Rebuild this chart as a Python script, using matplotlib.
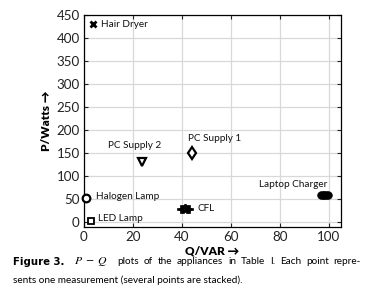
import matplotlib
matplotlib.use("Agg")
import matplotlib.pyplot as plt

plt.rcParams['font.family'] = ['Lato', 'DejaVu Sans']
plt.rcParams['mathtext.fontset'] = 'stix'

# ---- data ----
appliances = ["Hair Dryer", "PC Supply 2", "PC Supply 1", "Halogen Lamp",
              "LED Lamp", "CFL", "Laptop Charger"]
q_values = [[3.5], [23.7], [44.2], [0.7], [2.7],
            [39.8, 40.6, 41.3, 42.0, 42.8],
            [96.8, 97.5, 98.2, 98.9, 99.5]]
p_values = [[430], [131], [151], [54], [2],
            [29, 30, 31, 30, 30],
            [59, 60, 60, 59, 60]]
x_ticks = [0, 20, 40, 60, 80, 100]
y_ticks = [0, 50, 100, 150, 200, 250, 300, 350, 400, 450]

# ---- styles ----
styles = [dict(marker='x', ms=4.5, mew=2.0, mfc='black', mec='black'),
          dict(marker='v', ms=5.5, mew=1.6, mfc='white', mec='black'),
          dict(marker='d', ms=6.5, mew=1.6, mfc='white', mec='black'),
          dict(marker='o', ms=5.5, mew=1.6, mfc='white', mec='black'),
          dict(marker='s', ms=4.5, mew=1.3, mfc='white', mec='black'),
          dict(marker='P', ms=5.5, mew=0.5, mfc='black', mec='black'),
          dict(marker='o', ms=5.5, mew=0.5, mfc='black', mec='black')]
label_pos = [(6.9, 430, 'left'), (20.8, 166, 'center'), (42.5, 181, 'left'),
             (4.9, 57, 'left'), (5.7, 9.5, 'left'), (46.2, 31, 'left'),
             (71.5, 83, 'left')]

fig = plt.figure(figsize=(3.79, 3.04), dpi=100)
ax = fig.add_axes([84/379, 1-227/304, (341-84)/379, (227-15)/304])

for name, qs, ps, st, (lx, ly, ha) in zip(appliances, q_values, p_values, styles, label_pos):
    ax.plot(qs, ps, linestyle='none', clip_on=False, zorder=3, **st)
    ax.text(lx, ly, name, ha=ha, va='center', fontsize=7.2, color='#111111')

ax.set_xlim(0, 105)
ax.set_ylim(-10, 450)
ax.set_xticks(x_ticks)
ax.set_yticks(y_ticks)
ax.grid(True, color='#d8d8d8', linewidth=0.9)
ax.set_axisbelow(True)
ax.tick_params(direction='in', top=True, right=True, length=3, width=0.8,
               labelsize=9.6, pad=3, colors='#222222')
for sp in ax.spines.values():
    sp.set_linewidth(0.9)

ax.set_xlabel('Q/VAR →', fontsize=8.5, fontweight='heavy', labelpad=2)
ax.set_ylabel('P/Watts →', fontsize=8.5, fontweight='heavy', labelpad=3)

# caption
cap_fs = 7.2
W = 379
y1, y2 = 1-262/304, 1-280/304
fig.text(13/W, y1, 'Figure 3.', fontsize=7.3, fontweight='bold',
         family=['DejaVu Sans'], va='center')
fig.text(74/W, y1, r'$P\;-\;Q$', fontsize=8.5, va='center')
words = ['plots', 'of', 'the', 'appliances', 'in', 'Table', 'I.',
         'Each', 'point', 'repre-']
fig.canvas.draw()
r = fig.canvas.get_renderer()
arts = [fig.text(0, y1, w, fontsize=cap_fs, va='center') for w in words]
widths = [t.get_window_extent(r).width / fig.bbox.width for t in arts]
xs, xe = 117/W, 361/W
gap = (xe - xs - sum(widths)) / (len(words) - 1)
xx = xs
for t, w in zip(arts, widths):
    t.set_x(xx)
    xx += w + gap
fig.text(13/W, y2, 'sents one measurement (several points are stacked).',
         fontsize=cap_fs, va='center')

fig.savefig('out.png', dpi=100)
